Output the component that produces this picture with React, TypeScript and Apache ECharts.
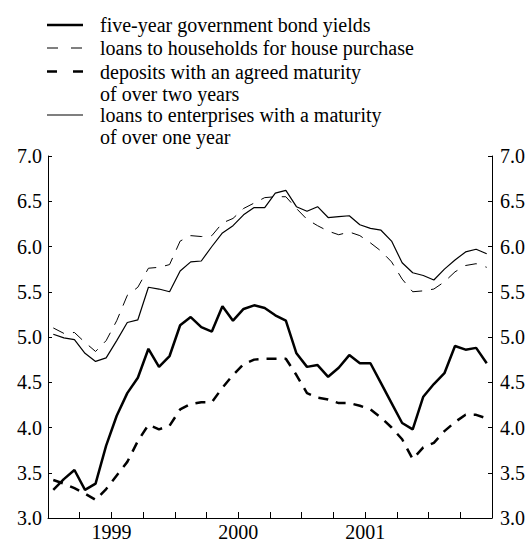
import React, { useEffect, useRef } from "react";
import * as echarts from "echarts";

// Monthly observations, January 1999 – June 2002 (42 months)
const bondYields = [
  3.31, 3.43, 3.53, 3.31, 3.38, 3.8, 4.13, 4.38, 4.55, 4.87, 4.67, 4.79,
  5.13, 5.22, 5.11, 5.06, 5.34, 5.18, 5.31, 5.35, 5.32, 5.24, 5.18, 4.82,
  4.67, 4.69, 4.56, 4.66, 4.8, 4.71, 4.71, 4.49, 4.27, 4.05, 3.98, 4.34,
  4.48, 4.6, 4.9, 4.86, 4.88, 4.71,
];
const houseLoans = [
  5.1, 5.04, 5.05, 4.94, 4.84, 4.96, 5.18, 5.46, 5.55, 5.76, 5.77, 5.8,
  6.06, 6.12, 6.11, 6.12, 6.26, 6.31, 6.42, 6.48, 6.54, 6.55, 6.55, 6.42,
  6.3, 6.23, 6.17, 6.13, 6.16, 6.12, 6.04, 5.95, 5.83, 5.64, 5.5, 5.51,
  5.53, 5.61, 5.72, 5.79, 5.81, 5.77,
];
const deposits = [
  3.42, 3.38, 3.33, 3.27, 3.2, 3.32, 3.47, 3.62, 3.85, 4.03, 3.98, 4.02,
  4.2, 4.26, 4.28, 4.28, 4.44, 4.58, 4.7, 4.75, 4.76, 4.76, 4.76, 4.58,
  4.38, 4.33, 4.31, 4.27, 4.27, 4.24, 4.2, 4.11, 4.0, 3.87, 3.65, 3.78,
  3.83, 3.96, 4.06, 4.14, 4.14, 4.1,
];
const enterpriseLoans = [
  5.03, 4.99, 4.97, 4.82, 4.73, 4.77, 4.96, 5.16, 5.19, 5.55, 5.53, 5.5,
  5.73, 5.83, 5.84, 6.0, 6.15, 6.23, 6.35, 6.43, 6.43, 6.59, 6.62, 6.44,
  6.39, 6.44, 6.32, 6.33, 6.34, 6.24, 6.2, 6.18, 6.06, 5.82, 5.71, 5.68,
  5.63, 5.75, 5.85, 5.94, 5.97, 5.92,
];

// Year labels placed at mid-year (months from Jan 1999)
const yearLabels: Record<number, string> = { 6: "1999", 18: "2000", 30: "2001" };

const seriesNames = [
  "five-year government bond yields",
  "loans to households for house purchase",
  "deposits with an agreed maturity\nof over two years",
  "loans to enterprises with a maturity\nof over one year",
];

const FONT = "Liberation Serif";

const toPoints = (arr: number[]) => arr.map((v, i) => [i + 0.5, v]);

export default function App() {
  const ref = useRef<HTMLDivElement>(null);

  useEffect(() => {
    if (!ref.current) return;
    const chart = echarts.init(ref.current, undefined, { renderer: "svg" });

    const yAxisCommon = {
      type: "value" as const,
      min: 3,
      max: 7,
      interval: 0.5,
      splitLine: { show: false },
      axisLine: { show: true, lineStyle: { color: "#000", width: 1 } },
      axisTick: { show: true, inside: true, length: 4, lineStyle: { color: "#000" } },
      axisLabel: {
        color: "#000",
        fontFamily: FONT,
        fontSize: 20,
        formatter: (v: number) => v.toFixed(1),
      },
    };

    const legendRows = [
      { y: 25, dash: null as number[] | null, width: 2.5, text: seriesNames[0] },
      { y: 48, dash: [11, 13], width: 1, text: seriesNames[1] },
      { y: 71.5, dash: [10, 16], width: 2.5, text: seriesNames[2] },
      { y: 115, dash: null, width: 1.2, text: seriesNames[3] },
    ];

    const graphic: any[] = legendRows.map((r) => ({
      type: "line",
      shape: { x1: 47, y1: r.y, x2: 83, y2: r.y },
      style: {
        stroke: "#000",
        lineWidth: r.width,
        lineDash: r.dash || undefined,
      },
    }));

    const title = legendRows.map((r) => ({
      text: r.text,
      left: 100,
      top: r.y - 11,
      padding: 0,
      textStyle: {
        color: "#000",
        fontFamily: FONT,
        fontSize: 20,
        fontWeight: "normal",
        lineHeight: 22,
      },
    }));

    chart.setOption({
      animation: false,
      backgroundColor: "#fff",
      title,
      grid: { left: 48, right: 39, top: 156, bottom: 21, containLabel: false },
      xAxis: {
        type: "value",
        min: 0,
        max: 42,
        interval: 3,
        splitLine: { show: false },
        axisLine: { show: true, onZero: false, lineStyle: { color: "#000", width: 1 } },
        axisTick: { show: true, inside: true, length: 6, lineStyle: { color: "#000" } },
        axisLabel: {
          color: "#000",
          fontFamily: FONT,
          fontSize: 20,
          margin: 4,
          showMinLabel: true,
          showMaxLabel: true,
          formatter: (v: number) => yearLabels[v] || "",
        },
      },
      yAxis: [
        { ...yAxisCommon, position: "left", axisLabel: { ...yAxisCommon.axisLabel, margin: 6 } },
        { ...yAxisCommon, position: "right", axisLabel: { ...yAxisCommon.axisLabel, margin: 8 } },
      ],
      graphic,
      series: [
        {
          name: seriesNames[0],
          type: "line",
          data: toPoints(bondYields),
          symbol: "none",
          lineStyle: { color: "#000", width: 2.5, type: "solid" },
          z: 5,
        },
        {
          name: seriesNames[1],
          type: "line",
          data: toPoints(houseLoans),
          symbol: "none",
          lineStyle: { color: "#000", width: 1, type: [12, 9] },
        },
        {
          name: seriesNames[2],
          type: "line",
          data: toPoints(deposits),
          symbol: "none",
          lineStyle: { color: "#000", width: 2.5, type: [10, 8] },
        },
        {
          name: seriesNames[3],
          type: "line",
          data: toPoints(enterpriseLoans),
          symbol: "none",
          lineStyle: { color: "#000", width: 1.2, type: "solid" },
        },
      ],
    });

    return () => chart.dispose();
  }, []);

  return (
    <div
      ref={ref}
      style={{ position: "fixed", left: 0, top: 0, width: 531, height: 542, background: "#fff" }}
    />
  );
}
